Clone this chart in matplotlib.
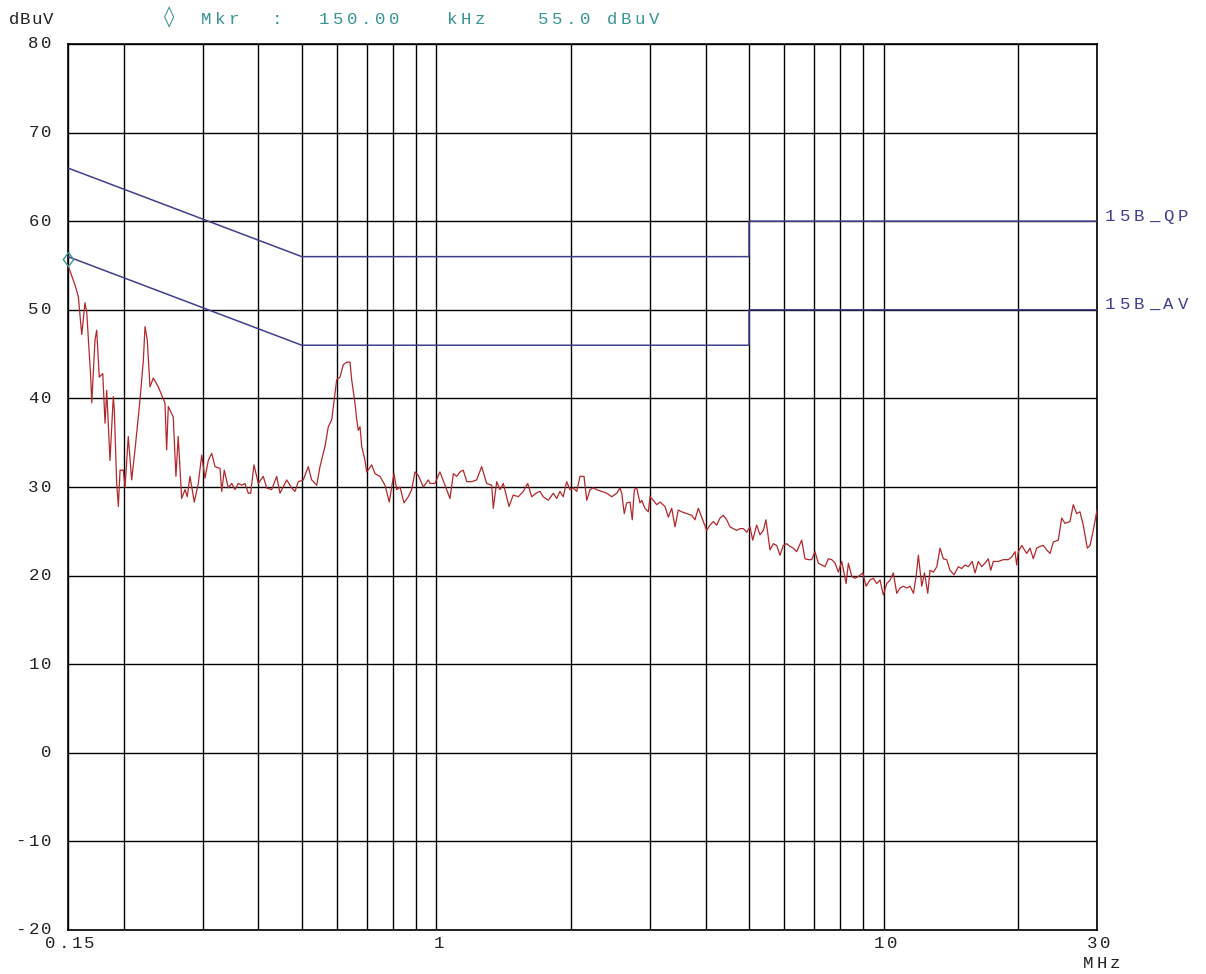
import matplotlib
matplotlib.use("Agg")
import matplotlib.pyplot as plt
from matplotlib.path import Path

# Conducted emission scan, 150 kHz - 30 MHz
freq_mhz = [
    0.150, 0.1555, 0.1582, 0.1610, 0.1637, 0.1652, 0.1686, 0.1695, 0.1724, 0.1739,
    0.1762, 0.1794, 0.1815, 0.1831, 0.1862, 0.1894, 0.1904, 0.1927, 0.1944, 0.1961,
    0.1994, 0.2012, 0.2046, 0.2082, 0.2118, 0.2173, 0.2211, 0.2230, 0.2256, 0.2288,
    0.2327, 0.2388, 0.2471, 0.2493, 0.2514, 0.2579, 0.2615, 0.2646, 0.2693, 0.2740,
    0.2772, 0.2811, 0.2874, 0.2934, 0.2986, 0.3037, 0.3089, 0.3144, 0.3198, 0.3281,
    0.3310, 0.3354, 0.3424, 0.3485, 0.3544, 0.3605, 0.3669, 0.3732, 0.3796, 0.3842,
    0.3908, 0.3996, 0.4100, 0.4172, 0.4281, 0.4393, 0.4469, 0.4625, 0.4746, 0.4827,
    0.4910, 0.5038, 0.5169, 0.5260, 0.5398, 0.5490, 0.5634, 0.5730, 0.5832, 0.5931,
    0.5983, 0.6086, 0.6190, 0.6300, 0.6408, 0.6464, 0.6576, 0.6633, 0.6687, 0.6746,
    0.6805, 0.6922, 0.6983, 0.7165, 0.7288, 0.7478, 0.7672, 0.7845, 0.7941, 0.8037,
    0.8149, 0.8289, 0.8461, 0.8650, 0.8802, 0.8954, 0.9108, 0.9346, 0.9590, 0.9674,
    0.9924, 1.018, 1.045, 1.072, 1.091, 1.110, 1.129, 1.148, 1.169, 1.199,
    1.230, 1.262, 1.295, 1.329, 1.340, 1.364, 1.387, 1.411, 1.453, 1.485,
    1.524, 1.564, 1.600, 1.633, 1.670, 1.704, 1.733, 1.779, 1.825, 1.857,
    1.889, 1.921, 1.955, 1.989, 2.023, 2.059, 2.094, 2.138, 2.168, 2.205,
    2.243, 2.282, 2.342, 2.403, 2.466, 2.530, 2.573, 2.596, 2.630, 2.663,
    2.709, 2.741, 2.770, 2.804, 2.852, 2.878, 2.926, 2.977, 3.003, 3.055,
    3.109, 3.162, 3.244, 3.300, 3.358, 3.416, 3.474, 3.536, 3.628, 3.723,
    3.785, 3.851, 3.918, 4.021, 4.090, 4.160, 4.234, 4.306, 4.380, 4.457,
    4.534, 4.612, 4.694, 4.774, 4.856, 4.942, 5.025, 5.096, 5.201, 5.291,
    5.381, 5.456, 5.570, 5.665, 5.765, 5.864, 5.965, 6.071, 6.175, 6.281,
    6.391, 6.557, 6.670, 6.785, 6.904, 7.023, 7.144, 7.270, 7.395, 7.522,
    7.655, 7.787, 7.921, 8.060, 8.241, 8.339, 8.487, 8.631, 8.780, 8.982,
    9.135, 9.326, 9.483, 9.651, 9.816, 9.985, 10.16, 10.34, 10.51, 10.70,
    10.88, 11.07, 11.27, 11.46, 11.66, 11.82, 11.96, 12.17, 12.34, 12.55,
    12.70, 12.92, 13.15, 13.37, 13.60, 13.84, 14.07, 14.37, 14.69, 14.95,
    15.20, 15.46, 15.78, 16.01, 16.28, 16.57, 16.85, 17.14, 17.36, 17.59,
    18.05, 18.52, 19.00, 19.33, 19.67, 19.84, 20.00, 20.36, 20.89, 21.25,
    21.61, 21.99, 22.37, 22.76, 23.16, 23.56, 23.96, 24.58, 25.01, 25.44,
    26.10, 26.55, 27.02, 27.48, 27.95, 28.54, 28.94, 29.43, 30.00,
]
level_dbuv = [
    55.0, 52.8, 51.5, 47.2, 50.8, 49.7, 42.4, 39.5, 46.6, 47.7,
    42.4, 42.8, 37.2, 40.9, 33.0, 40.2, 38.7, 30.5, 27.8, 31.9,
    31.9, 30.0, 35.7, 30.8, 34.2, 39.8, 44.3, 48.1, 46.6, 41.3,
    42.3, 41.3, 39.5, 34.2, 39.1, 37.9, 31.2, 35.7, 28.7, 29.7,
    28.9, 31.2, 28.3, 30.4, 33.6, 31.0, 33.0, 33.8, 32.3, 32.1,
    29.5, 31.9, 29.9, 30.4, 29.7, 30.4, 30.2, 30.4, 29.3, 29.3,
    32.5, 30.4, 31.2, 29.9, 29.7, 31.2, 29.3, 30.8, 29.9, 29.5,
    30.6, 30.8, 32.3, 30.8, 30.2, 32.3, 34.6, 36.8, 37.6, 40.6,
    42.1, 42.4, 43.8, 44.1, 44.1, 42.1, 39.4, 37.6, 36.4, 36.8,
    34.6, 33.0, 31.7, 32.5, 31.5, 31.2, 30.2, 28.3, 30.0, 31.5,
    29.7, 30.0, 28.2, 28.9, 29.7, 31.7, 31.3, 30.0, 30.8, 30.4,
    30.4, 31.7, 30.2, 28.7, 31.5, 31.2, 31.7, 31.9, 30.6, 30.6,
    30.8, 32.3, 30.4, 30.2, 27.6, 30.6, 29.7, 30.4, 27.8, 29.1,
    28.9, 29.5, 30.4, 28.9, 29.3, 29.5, 28.9, 28.5, 29.3, 28.7,
    29.5, 28.9, 30.6, 29.7, 29.9, 29.5, 31.2, 31.2, 28.5, 29.7,
    29.9, 29.7, 29.5, 29.3, 28.9, 29.3, 29.9, 29.3, 27.0, 28.2,
    28.3, 26.3, 29.7, 29.9, 28.2, 28.5, 27.6, 27.2, 28.9, 28.5,
    28.0, 28.3, 27.8, 26.6, 27.6, 25.5, 27.4, 27.2, 27.0, 26.8,
    26.3, 27.6, 26.6, 25.1, 25.7, 26.1, 25.7, 26.5, 26.8, 26.3,
    25.5, 25.3, 25.1, 25.3, 25.3, 24.9, 25.5, 24.0, 25.7, 24.6,
    25.1, 26.3, 22.9, 23.6, 23.4, 22.3, 23.4, 23.6, 23.3, 23.1,
    22.7, 24.0, 21.9, 21.8, 21.8, 22.7, 21.4, 21.2, 21.0, 21.9,
    21.8, 21.4, 20.4, 21.6, 19.1, 21.4, 19.9, 19.7, 19.9, 20.3,
    18.8, 19.5, 19.7, 19.1, 19.5, 17.8, 19.1, 19.5, 20.3, 18.0,
    18.6, 18.8, 18.6, 18.8, 18.0, 19.9, 22.3, 18.8, 20.3, 18.0,
    20.6, 20.4, 21.0, 23.1, 21.9, 21.8, 20.6, 20.1, 21.0, 20.8,
    21.2, 21.0, 21.6, 20.3, 21.6, 21.0, 21.4, 21.9, 20.6, 21.6,
    21.6, 21.8, 21.8, 22.1, 22.7, 21.2, 22.7, 23.4, 22.5, 23.1,
    21.9, 23.1, 23.3, 23.4, 22.9, 22.5, 23.8, 24.0, 26.5, 25.9,
    26.1, 28.0, 27.0, 27.2, 25.7, 23.1, 23.4, 25.1, 27.4,
]

# FCC Part 15B class B limit lines
limit_freq = [0.15, 0.5, 5.0, 5.0, 30.0]
qp_limit = [66, 56, 56, 60, 60]
av_limit = [56, 46, 46, 50, 50]
limit_names = ["15B_QP", "15B_AV"]

# Marker
marker_freq_mhz = 0.150
marker_level = 55.0

x_tick_values = [0.15, 1, 10, 30]
x_tick_labels = ["0.15", "1", "10", "30"]
x_grid_values = [0.2, 0.3, 0.4, 0.5, 0.6, 0.7, 0.8, 0.9,
                 2, 3, 4, 5, 6, 7, 8, 9, 20]
y_ticks = list(range(-20, 81, 10))

W, H = 1206, 974
MONO = ["Liberation Mono", "DejaVu Sans Mono"]
TRACE = "#b3282d"
LIMIT = "#3f3f8f"
MARK = "#3a9494"
TXT = "#222222"
FS = 12.5
PITCH = 13

fig = plt.figure(figsize=(W / 100, H / 100), dpi=100)
fig.patch.set_facecolor("white")
ax = fig.add_axes([68 / W, 1 - 930 / H, (1097 - 68) / W, (930 - 44) / H])

ax.set_xscale("log")
ax.set_xlim(0.15, 30)
ax.set_ylim(-20, 80)

ax.set_xticks(x_tick_values)
ax.set_xticks(x_grid_values, minor=True)
ax.set_yticks(y_ticks)
ax.tick_params(which="both", length=0, labelbottom=False, labelleft=False)

ax.grid(True, which="both", color="black", linewidth=1.0)
ax.set_axisbelow(True)
for sp in ax.spines.values():
    sp.set_color("black")
    sp.set_linewidth(1.2)

# Limit lines
ax.plot(limit_freq, qp_limit, color=LIMIT, linewidth=1.1, zorder=3)
ax.plot(limit_freq, av_limit, color=LIMIT, linewidth=1.1, zorder=3)

# Measured trace
ax.plot(freq_mhz, level_dbuv, color=TRACE, linewidth=0.9, zorder=4)

# Marker diamond sitting on the trace point
diamond = Path([(0, 0), (0.75, 1), (0, 2), (-0.75, 1), (0, 0)],
               [Path.MOVETO, Path.LINETO, Path.LINETO, Path.LINETO, Path.CLOSEPOLY])
ax.plot([marker_freq_mhz], [marker_level], linestyle="none", marker=diamond,
        markersize=20, markerfacecolor="none", markeredgecolor=MARK,
        markeredgewidth=1.0, zorder=5, clip_on=False)


def px_text(x, y, s, **kw):
    # x, y in output pixels measured from the top-left corner
    fig.text(x / W, 1 - y / H, s, **kw)


def spaced_text(x, y, s, pitch, align="left", **kw):
    # monospaced string with a fixed character pitch; x is the left edge,
    # the centre or the right edge depending on align
    n = len(s)
    if align == "center":
        x0 = x - n * pitch / 2
    elif align == "right":
        x0 = x - n * pitch
    else:
        x0 = x
    for i, ch in enumerate(s):
        if ch != " ":
            px_text(x0 + (i + 0.5) * pitch, y, ch, ha="center", **kw)


base = dict(fontfamily=MONO, fontsize=FS, va="center")


def to_px(xv, yv):
    dx, dy = ax.transData.transform((xv, yv))
    return dx, H - dy


# Axis tick labels
for v in y_ticks:
    _, py = to_px(1.0, v)
    spaced_text(53, py, str(v), PITCH, align="right", color=TXT, **base)
for v, lab in zip(x_tick_values, x_tick_labels):
    px, _ = to_px(v, -20)
    spaced_text(px + 2, 943, lab, PITCH, align="center", color=TXT, **base)

spaced_text(1082, 964, "MHz", PITCH, color=TXT, **base)

# Header line
spaced_text(8, 19, "dBuV", 11.5, color=TXT, **base)
px_text(164, 17, "\u25ca", color=MARK, fontfamily=["DejaVu Sans"], fontsize=15,
        va="center", ha="left")
spaced_text(199, 20, "Mkr", 14, color=MARK, **base)
spaced_text(270, 20, ":", 14, color=MARK, **base)
spaced_text(317, 20, "150.00", 14, color=MARK, **base)
spaced_text(445, 20, "kHz", 14, color=MARK, **base)
spaced_text(536, 20, "55.0", 14, color=MARK, **base)
spaced_text(605, 20, "dBuV", 14, color=MARK, **base)

# Limit line labels at the right edge
for name, lvl in zip(limit_names, [qp_limit[-1], av_limit[-1]]):
    _, py = to_px(30, lvl)
    spaced_text(1103, py - 5, name, 14.5, color=LIMIT, **base)

fig.savefig("out.png", dpi=100, facecolor="white")
